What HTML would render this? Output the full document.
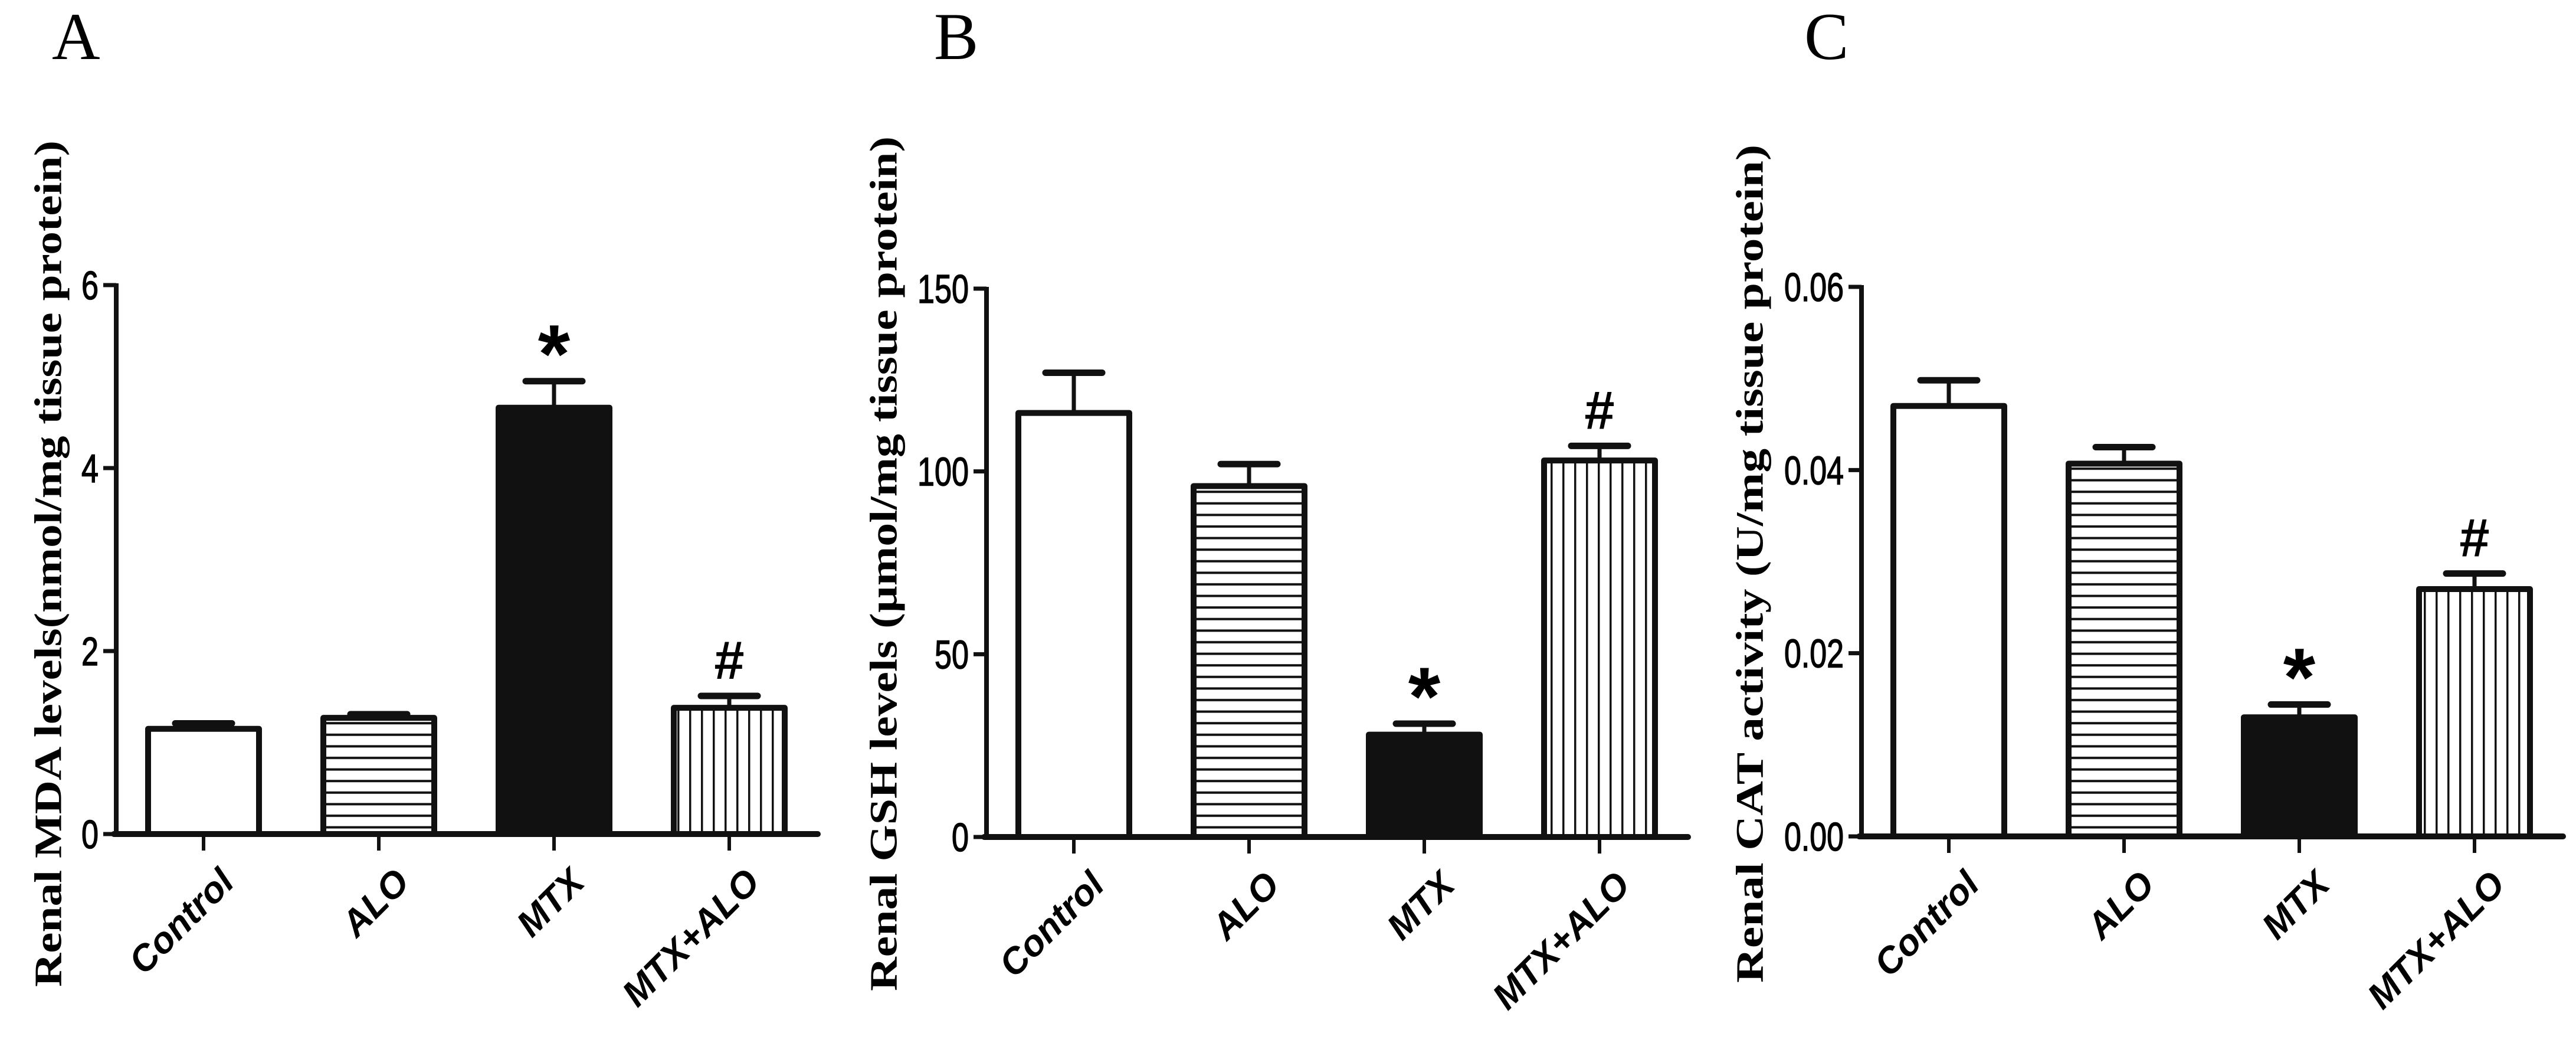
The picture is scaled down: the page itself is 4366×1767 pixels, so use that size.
<!DOCTYPE html>
<html><head><meta charset="utf-8">
<style>
html,body{margin:0;padding:0;background:#fff;}
svg{display:block;}
</style></head>
<body>
<svg id="fig" width="4366" height="1767" viewBox="0 0 4366 1767" xmlns="http://www.w3.org/2000/svg">
<defs>
<pattern id="hpat" patternUnits="userSpaceOnUse" width="20" height="19.6"><rect width="20" height="19.6" fill="#fff"/><rect y="8" width="20" height="4" fill="#111"/></pattern>
<pattern id="vpat" patternUnits="userSpaceOnUse" width="20" height="20"><rect width="20" height="20" fill="#fff"/><rect x="8" width="3.5" height="20" fill="#111"/></pattern>
</defs>
</svg>
<script>
const categories = ["Control", "ALO", "MTX", "MTX+ALO"];
const mdaValues = [1.15, 1.27, 4.66, 1.38];
const mdaErrors = [0.06, 0.04, 0.29, 0.13];
const gshValues = [116, 96, 28, 103];
const gshErrors = [11, 6, 3, 4];
const catValues = [0.047, 0.0407, 0.013, 0.027];
const catErrors = [0.0028, 0.0018, 0.0014, 0.0017];
const mdaTicks = [0, 2, 4, 6];
const mdaTickLabels = ["0", "2", "4", "6"];
const gshTicks = [0, 50, 100, 150];
const gshTickLabels = ["0", "50", "100", "150"];
const catTicks = [0, 0.02, 0.04, 0.06];
const catTickLabels = ["0.00", "0.02", "0.04", "0.06"];
const marksA = ["", "", "*", "#"];
const marksB = ["", "", "*", "#"];
const marksC = ["", "", "*", "#"];

const NS = "http://www.w3.org/2000/svg";
const svg = document.getElementById("fig");
function mk(tag, attrs, parent) {
  const e = document.createElementNS(NS, tag);
  for (const k in attrs) e.setAttribute(k, attrs[k]);
  (parent || svg).appendChild(e);
  return e;
}
const fills = ["#fff", "url(#hpat)", "#111", "url(#vpat)"];
const fillNames = ["open", "horizontal-hatch", "solid", "vertical-hatch"];

function panel(cfg) {
  const g = mk("g", {});
  
  
  const x0 = cfg.x0, yTop = cfg.yTop, yBase = cfg.yBase, maxV = cfg.ticks[cfg.ticks.length - 1];
  const yS = v => yBase - (v / maxV) * (yBase - yTop);
  const xS = i => x0 + 148 + i * 297;
  const L = mk("text", {x: cfg.letterX, y: 100, "font-family": "Liberation Serif, serif", "font-size": 113}, g);
  L.textContent = cfg.letter;
  
  
  const tx = cfg.titleX, ty = 955;
  const T = mk("text", {x: tx, y: ty, transform: `rotate(-90 ${tx} ${ty})`, "text-anchor": "middle", "dominant-baseline": "central",
    "font-family": "Liberation Serif, serif", "font-weight": "bold", "font-size": 66, textLength: cfg.titleLen, lengthAdjust: "spacingAndGlyphs"}, g);
  T.textContent = cfg.title;
  
  
  for (let i = 0; i < categories.length; i++) {
    const c = xS(i), v = cfg.values[i], e = cfg.errors[i];
    const yv = yS(v), ye = yS(v + e);
    const el = mk("line", {x1: c, x2: c, y1: yv, y2: ye, stroke: "#111", "stroke-width": 7}, g);
    
    
    const cap = mk("line", {x1: c - 48, x2: c + 48, y1: ye, y2: ye, stroke: "#111", "stroke-width": 11, "stroke-linecap": "round"}, g);
    
    
    const r = mk("rect", {x: c - 94, y: yv, width: 188, height: yBase - yv, fill: fills[i], stroke: "#111", "stroke-width": 10, "stroke-linejoin": "round"}, g);
    
    
    const m = cfg.marks[i];
    if (m) {
      const s = mk("text", {x: c, y: m === "*" ? ye + 2 : ye - 29, "text-anchor": "middle", "font-family": "Liberation Sans, sans-serif", "font-weight": "bold", "font-size": m === "*" ? 140 : 92}, g);
      s.textContent = m;
      
      
    }
    const t = mk("line", {x1: c, x2: c, y1: yBase, y2: yBase + 28, stroke: "#111", "stroke-width": 6}, g);
    
    
    const lx = c + 55, ly = yBase + 85;
    const lab = mk("text", {x: lx, y: ly, transform: `rotate(-45 ${lx} ${ly})`, "text-anchor": "end",
      "font-family": "Liberation Sans, sans-serif", "font-weight": "bold", "font-style": "italic", "font-size": 62}, g);
    lab.textContent = categories[i];
    
    
  }
  const ya = mk("line", {x1: x0, x2: x0, y1: yTop - 3, y2: yBase + 4, stroke: "#111", "stroke-width": 8}, g);
  
  
  const xa = mk("line", {x1: x0 - 4, x2: x0 + 1189, y1: yBase, y2: yBase, stroke: "#111", "stroke-width": 10, "stroke-linecap": "round"}, g);
  
  
  for (let k = 0; k < cfg.ticks.length; k++) {
    const y = yS(cfg.ticks[k]);
    const tk = mk("line", {x1: x0 - 22, x2: x0, y1: y, y2: y, stroke: "#111", "stroke-width": 7}, g);
    
    
    const lbl = cfg.tickLabels[k];
    const nd = lbl.replace('.', '').length, np = lbl.length - nd;
    const tl = mk("text", {x: x0 - 30, y: y + 24, "text-anchor": "end", "font-family": "Liberation Sans, sans-serif", "font-size": 68,
      "stroke": "#000", "stroke-width": 1.5,
      textLength: nd * 29 + np * 14, lengthAdjust: "spacingAndGlyphs"}, g);
    tl.textContent = lbl;
    
    
  }
}

panel({id: "mda", letter: "A", letterX: 88, x0: 197, yTop: 483, yBase: 1413, titleX: 82, titleLen: 1434,
  title: "Renal MDA levels(nmol/mg tissue protein)", values: mdaValues, errors: mdaErrors, ticks: mdaTicks, tickLabels: mdaTickLabels, marks: marksA});
panel({id: "gsh", letter: "B", letterX: 1583, x0: 1672, yTop: 489, yBase: 1418, titleX: 1498, titleLen: 1448,
  title: "Renal GSH levels (\u00b5mol/mg tissue protein)", values: gshValues, errors: gshErrors, ticks: gshTicks, tickLabels: gshTickLabels, marks: marksB});
panel({id: "cat", letter: "C", letterX: 3058, x0: 3155, yTop: 486, yBase: 1417, titleX: 2966, titleLen: 1420,
  title: "Renal CAT activity (U/mg tissue protein)", values: catValues, errors: catErrors, ticks: catTicks, tickLabels: catTickLabels, marks: marksC});
</script>
</body></html>
